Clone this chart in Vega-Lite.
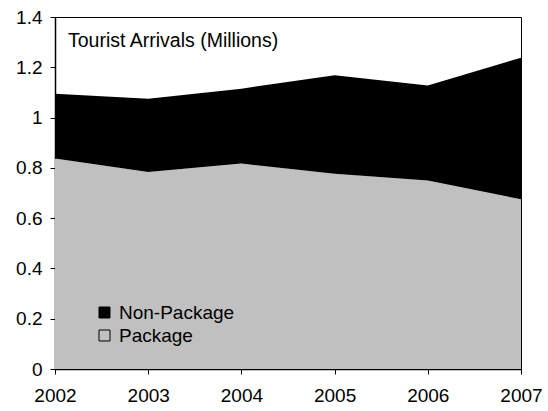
{
  "$schema": "https://vega.github.io/schema/vega-lite/v6.json",
  "autosize": {"type": "none"},
  "width": 466,
  "height": 352,
  "padding": {"left": 55, "top": 17, "right": 27, "bottom": 42},
  "background": "white",
  "title": {
    "text": "Tourist Arrivals (Millions)",
    "orient": "top",
    "anchor": "start",
    "frame": "group",
    "dx": 13,
    "offset": -43,
    "font": "Liberation Sans",
    "fontSize": 19.5,
    "fontWeight": "normal",
    "color": "black"
  },
  "data": {
    "values": [
      {"year": 2002, "type": "Package", "value": 0.837},
      {"year": 2003, "type": "Package", "value": 0.784},
      {"year": 2004, "type": "Package", "value": 0.817},
      {"year": 2005, "type": "Package", "value": 0.777},
      {"year": 2006, "type": "Package", "value": 0.75},
      {"year": 2007, "type": "Package", "value": 0.675},
      {"year": 2002, "type": "Non-Package", "value": 0.258},
      {"year": 2003, "type": "Non-Package", "value": 0.291},
      {"year": 2004, "type": "Non-Package", "value": 0.298},
      {"year": 2005, "type": "Non-Package", "value": 0.391},
      {"year": 2006, "type": "Non-Package", "value": 0.378},
      {"year": 2007, "type": "Non-Package", "value": 0.563}
    ]
  },
  "mark": {"type": "area", "interpolate": "linear"},
  "encoding": {
    "x": {
      "field": "year",
      "type": "quantitative",
      "scale": {"domain": [2002, 2007], "nice": false, "zero": false},
      "axis": {
        "title": null,
        "values": [2002, 2003, 2004, 2005, 2006, 2007],
        "format": "d",
        "grid": false,
        "labelPadding": 12,
        "labelFlush": false
      }
    },
    "y": {
      "field": "value",
      "type": "quantitative",
      "stack": "zero",
      "scale": {"domain": [0, 1.4], "nice": false},
      "axis": {
        "title": null,
        "values": [0, 0.2, 0.4, 0.6, 0.8, 1, 1.2, 1.4],
        "format": ".1~f",
        "grid": false,
        "labelPadding": 8
      }
    },
    "color": {
      "field": "type",
      "type": "nominal",
      "scale": {"domain": ["Non-Package", "Package"], "range": ["#000000", "#c0c0c0"]},
      "legend": {
        "title": null,
        "orient": "none",
        "legendX": 40,
        "legendY": 286,
        "symbolType": "square",
        "symbolSize": 121,
        "symbolStrokeColor": "black",
        "symbolStrokeWidth": 1,
        "labelFont": "Liberation Sans",
        "labelFontSize": 19,
        "labelColor": "black",
        "labelOffset": 5,
        "rowPadding": 3,
        "padding": 0
      }
    },
    "order": {"field": "type", "sort": "descending"}
  },
  "config": {
    "view": {"stroke": "black", "strokeWidth": 1},
    "axis": {
      "domainColor": "black",
      "domainWidth": 1.5,
      "tickColor": "black",
      "tickSize": 5,
      "tickWidth": 1,
      "labelFont": "Liberation Sans",
      "labelFontSize": 19,
      "labelColor": "black"
    }
  }
}
